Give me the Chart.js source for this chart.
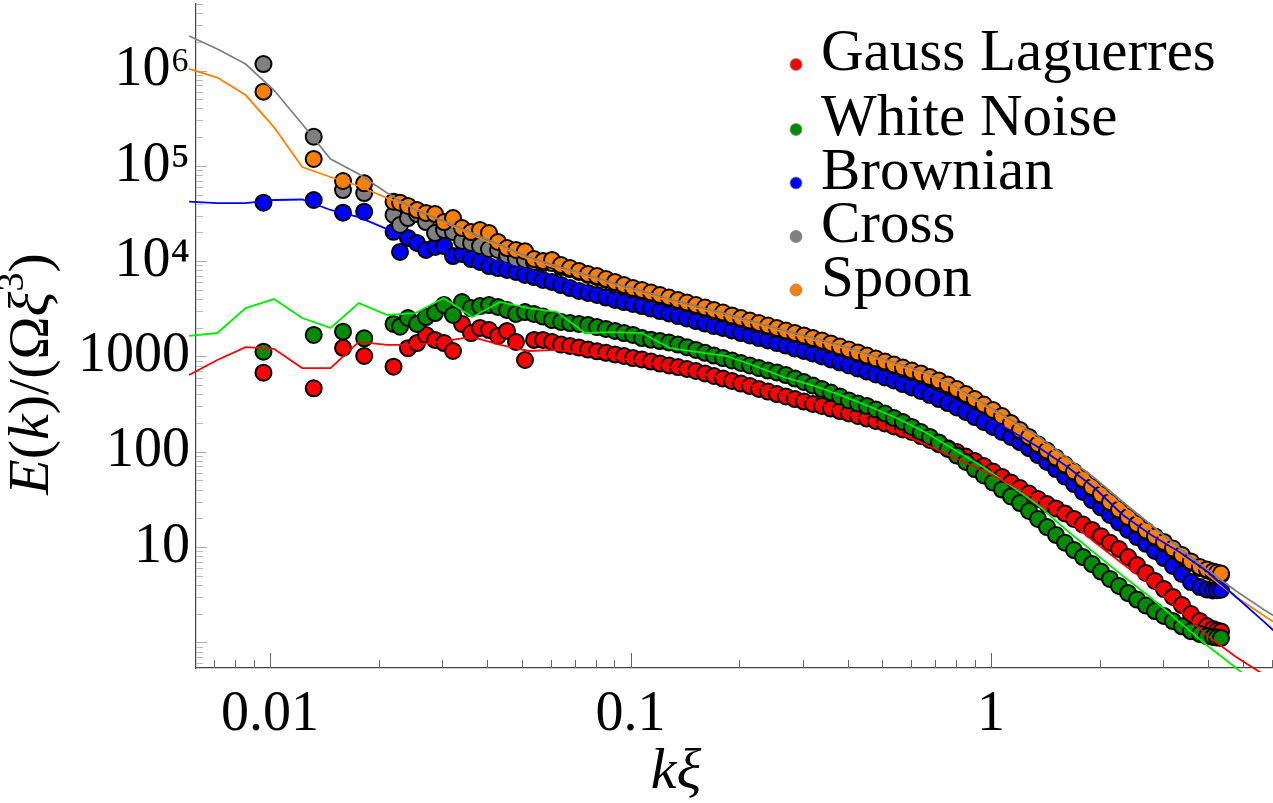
<!DOCTYPE html>
<html>
<head>
<meta charset="utf-8">
<script src="https://cdn.jsdelivr.net/npm/chart.js@4.4.1/dist/chart.umd.min.js"></script>
<style>
  html, body { margin: 0; padding: 0; background: #fff; }
  #wrap { width: 1273px; height: 803px; }
</style>
</head>
<body>
<div id="wrap"><canvas id="spectrum" width="1273" height="803"></canvas></div>
<script>
// k*xi positions of the binned spectra (shared by all five runs)
const pointK = [
  0.00959, 0.01322, 0.01594, 0.01825, 0.02201, 0.02294,
  0.02414, 0.02557, 0.02708, 0.02869, 0.03039, 0.03218, 0.03409, 0.03611, 0.03824, 0.04050,
  0.04290, 0.04544, 0.04813, 0.05097, 0.05399, 0.05718, 0.06056, 0.06415, 0.06794, 0.07196,
  0.07622, 0.08073, 0.08550, 0.09056, 0.09592, 0.1016, 0.1076, 0.1140, 0.1207, 0.1279,
  0.1354, 0.1434, 0.1519, 0.1609, 0.1704, 0.1805, 0.1912, 0.2025, 0.2144, 0.2271,
  0.2406, 0.2548, 0.2698, 0.2858, 0.3027, 0.3206, 0.3396, 0.3596, 0.3809, 0.4034,
  0.4273, 0.4526, 0.4793, 0.5077, 0.5377, 0.5695, 0.6032, 0.6388, 0.6766, 0.7166,
  0.7590, 0.8039, 0.8514, 0.9018, 0.9551, 1.0128, 1.0727, 1.1361, 1.2033, 1.2745,
  1.3498, 1.4297, 1.5142, 1.6038, 1.6986, 1.7991, 1.9054, 2.0181, 2.1375, 2.2639,
  2.3988, 2.541, 2.6897, 2.8488, 3.0173, 3.1957, 3.3847, 3.5849, 3.7970,
  3.972, 4.128, 4.235, 4.345
];

const gaussPts = [
  675, 463, 1230, 1010, 780, null,
  1220, 1380, 1680, 1490, 1380, 1140, 2190, 1760, 1990, 1890,
  1640, 1850, 1420, 917, 1490, 1490, 1420, 1330, 1290, 1240,
  1180, 1130, 1090, 1050, 1010, 962, 928, 884, 842, 803,
  774, 738, 703, 662, 623, 586, 552, 519, 489, 455,
  428, 403, 380, 357, 336, 317, 302, 284, 267, 252,
  237, 223, 210, 198, 184, 171, 161, 146, 133, 120,
  109, 99.3, 89.1, 79.9, 70.8, 62.0, 54.3, 47.5, 41.6, 36.4,
  31.9, 28.2, 25.4, 22.5, 19.7, 17.2, 15.1, 13.0, 11.1, 9.53,
  7.85, 6.47, 5.34, 4.40, 3.62, 2.99, 2.46, 1.98, 1.67,
  1.48, 1.38, 1.33, 1.30
];

const whiteNoisePts = [
  1120, 1680, 1820, 1550, 2190, 2050,
  2530, 2190, 2590, 2850, 3460, 2720, 3720, 3220, 3380, 3460,
  3300, 3070, 2790, 2920, 2790, 2620, 2410, 2300, 2240, 2190,
  2140, 2030, 1940, 1850, 1760, 1680, 1560, 1500, 1450, 1400,
  1330, 1250, 1170, 1090, 1020, 962, 906, 853, 803, 755,
  711, 678, 638, 586, 539, 495, 455, 418, 380, 345,
  320, 302, 277, 252, 226, 205, 182, 161, 143, 125,
  107, 91.2, 78.0, 65.8, 56.3, 47.5, 40.1, 33.9, 28.9, 23.9,
  19.7, 16.2, 13.4, 11.1, 9.30, 7.85, 6.63, 5.53, 4.62, 3.90,
  3.29, 2.81, 2.43, 2.13, 1.89, 1.67, 1.47, 1.31, 1.22,
  1.16, 1.14, 1.12, 1.11
];

const brownianPts = [
  41000, 43800, 32200, 33000, 20300, 12500,
  17500, 15500, 13100, 14100, 14400, 11300, 11900, 10500, 9790, 8880,
  8460, 8070, 7690, 7150, 6810, 6340, 6040, 5610, 5220, 4860,
  4630, 4410, 4150, 3910, 3720, 3550, 3380, 3180, 2990, 2820,
  2650, 2500, 2350, 2210, 2080, 1990, 1870, 1760, 1660, 1560,
  1470, 1380, 1300, 1210, 1140, 1070, 998, 928, 863, 803,
  746, 694, 646, 601, 559, 513, 472, 434, 393, 357,
  324, 291, 261, 231, 205, 182, 161, 143, 126, 109,
  92.3, 78.0, 65.8, 54.9, 45.8, 37.8, 31.1, 26.0, 21.7, 18.1,
  15.1, 12.7, 10.8, 9.08, 7.66, 6.32, 5.21, 4.29, 3.80,
  3.58, 3.50, 3.52, 3.56
];

const crossPts = [
  1170000, 202000, 55700, 51800, 30500, 23900,
  28300, 31200, 25700, 19700, 21200, 20200, 16300, 15500, 14400, 13400,
  13100, 11600, 10500, 10300, 9790, 9550, 9550, 8670, 8260, 7690,
  7150, 6810, 6340, 5900, 5480, 5100, 4860, 4570, 4300, 4050,
  3820, 3590, 3380, 3180, 3000, 2820, 2630, 2470, 2320, 2190,
  2060, 1940, 1830, 1720, 1620, 1520, 1430, 1340, 1240, 1150,
  1070, 996, 928, 863, 802, 747, 694, 646, 593, 546,
  495, 444, 393, 348, 305, 267, 231, 195, 165, 140,
  117, 100, 84.8, 71.6, 60.5, 50.5, 41.6, 34.7, 29.0, 24.1,
  20.1, 17.0, 14.5, 12.6, 11.0, 9.41, 8.04, 6.88, 6.02,
  5.67, 5.40, 5.27, 5.14
];

const spoonPts = [
  600000, 118000, 69300, 65500, 42000, 41000,
  37900, 34300, 32000, 31200, 25700, 28300, 22200, 20200, 21200, 19700,
  15900, 13700, 13100, 12700, 10500, 10000, 10300, 9100, 8470, 7890,
  7320, 6980, 6490, 6040, 5610, 5220, 4980, 4680, 4410, 4150,
  3910, 3680, 3460, 3260, 3070, 2890, 2690, 2530, 2380, 2240,
  2110, 1990, 1870, 1760, 1660, 1560, 1470, 1370, 1270, 1180,
  1100, 1020, 951, 884, 822, 765, 711, 662, 608, 559,
  507, 455, 403, 357, 313, 274, 237, 200, 169, 143,
  120, 103, 86.9, 73.4, 62.0, 51.7, 42.6, 35.6, 29.7, 24.7,
  20.6, 17.4, 14.9, 12.9, 11.3, 9.64, 8.24, 7.05, 6.17,
  5.81, 5.53, 5.40, 5.27
];

// fitted curves, sampled on a coarser k grid
const lineK = [
  0.005962, 0.007142, 0.008556, 0.01025, 0.01228, 0.01472, 0.01763, 0.02113, 0.02531, 0.03032,
  0.03633, 0.04353, 0.05216, 0.06249, 0.07487, 0.08970, 0.1075, 0.1288, 0.1543, 0.1848,
  0.2215, 0.2653, 0.3179, 0.3809, 0.4564, 0.5468, 0.6551, 0.7849, 0.9403, 1.1268,
  1.3499, 1.6173, 1.9375, 2.3214, 2.7812, 3.3331, 3.9931, 4.7842, 5.7320, 6.8676
];

const gaussFit = [
  638, 917, 1250, 1200, 755, 755, 1420, 1320, 1320, 1450,
  1600, 1320, 1140, 1170, 1060, 985, 874, 774, 670, 579,
  489, 413, 340, 267, 210, 161, 120, 88.0, 64.3, 45.8,
  31.9, 19.7, 11.3, 6.63, 3.99, 2.18, 1.16, 0.701, 0.454, 0.294
];
const whiteNoiseFit = [
  1640, 1760, 3220, 4000, 2530, 1990, 3630, 2720, 2850, 4100,
  2590, 3720, 3220, 2920, 1760, 1800, 1760, 1220, 1110, 1010,
  793, 608, 501, 394, 302, 226, 161, 107, 70.8, 44.7,
  27.6, 15.1, 8.65, 4.96, 2.92, 1.63, 0.915, 0.537, 0.316, 0.186
];
const brownianFit = [
  42200, 40700, 40700, 43800, 44300, 34400, 29000, 21700, 15500, 12600,
  11600, 9790, 8070, 6650, 5350, 4300, 3630, 2990, 2530, 1990,
  1640, 1350, 1140, 939, 755, 593, 466, 349, 243, 169,
  112, 70.8, 41.6, 21.7, 13.4, 8.86, 5.47, 2.99, 1.63, 0.871
];
const crossFit = [
  2300000, 1680000, 1170000, 624000, 275000, 118000, 82000, 51800, 34400, 26400,
  19700, 14800, 11000, 8880, 7320, 5890, 4860, 4000, 3340, 2790,
  2300, 1890, 1580, 1320, 1060, 853, 686, 501, 332, 220,
  146, 88.0, 53.0, 29.7, 17.0, 9.76, 5.74, 3.45, 2.18, 1.45
];
const spoonFit = [
  1040000, 844000, 553000, 255000, 97100, 76300, 61400, 45900, 36100, 25700,
  18800, 14100, 10500, 8460, 6980, 5610, 4630, 3810, 3180, 2650,
  2190, 1800, 1500, 1250, 1010, 812, 654, 477, 317, 210,
  136, 81.8, 48.1, 26.9, 15.1, 8.44, 5.08, 2.99, 1.89, 1.22
];

const seriesNames = ['Gauss Laguerres', 'White Noise', 'Brownian', 'Cross', 'Spoon'];
const pointSeries = [gaussPts, whiteNoisePts, brownianPts, crossPts, spoonPts];
const fitSeries = [gaussFit, whiteNoiseFit, brownianFit, crossFit, spoonFit];
const pointColors = ['#ff0000', '#008c00', '#0000ff', '#808080', '#ff8000'];
const lineColors = ['#ff0000', '#00ee00', '#0000ff', '#808080', '#ff8000'];

const xMajorTicks = [0.01, 0.1, 1];
const xTickLabels = ['0.01', '0.1', '1'];
const yMajorTicks = [1, 10, 100, 1000, 1e4, 1e5, 1e6];
const yTickLabels = ['', '10', '100', '1000', '10\u2074', '10\u2075', '10\u2076'];
const minorSteps = [2, 3, 4, 5, 6, 7, 8, 9];

const serif = "'Liberation Serif', 'Times New Roman', serif";

function pairs(xs, ys) {
  return xs.map((x, i) => ({ x: x, y: ys[i] }));
}

function minorTicks(majors) {
  const out = [];
  [majors[0] / 10].concat(majors).forEach(d => {
    minorSteps.forEach(s => out.push(d * s));
  });
  return out;
}

// Mathematica style ticks that point into the frame
const insideTicks = {
  id: 'insideTicks',
  beforeDatasetsDraw(chart) {
    const { ctx, chartArea } = chart;
    const x = chart.scales.x, y = chart.scales.y;
    ctx.save();
    ctx.lineWidth = 1;
    const tickX = (v, len, color) => {
      const px = Math.round(x.getPixelForValue(v)) + 0.5;
      if (px < chartArea.left || px > chartArea.right) return;
      ctx.strokeStyle = color;
      ctx.beginPath();
      ctx.moveTo(px, chartArea.bottom);
      ctx.lineTo(px, chartArea.bottom - len);
      ctx.stroke();
    };
    const tickY = (v, len, color) => {
      const py = Math.round(y.getPixelForValue(v)) + 0.5;
      if (py < chartArea.top || py > chartArea.bottom) return;
      ctx.strokeStyle = color;
      ctx.beginPath();
      ctx.moveTo(chartArea.left, py);
      ctx.lineTo(chartArea.left + len, py);
      ctx.stroke();
    };
    xMajorTicks.forEach(v => tickX(v, 15, '#666'));
    minorTicks(xMajorTicks).forEach(v => tickX(v, 8, '#666'));
    yMajorTicks.forEach(v => tickY(v, 11, '#aaa'));
    minorTicks(yMajorTicks).forEach(v => tickY(v, 7, '#bbb'));
    ctx.restore();
  }
};

// point legend in the upper right corner
const dotLegend = {
  id: 'dotLegend',
  afterDraw(chart) {
    const ctx = chart.ctx;
    const rows = [70, 135, 188.5, 242, 295.5];
    const sets = chart.data.datasets.filter(d => !d.showLine);
    ctx.save();
    ctx.font = '59px ' + serif;
    ctx.textBaseline = 'alphabetic';
    ctx.textAlign = 'left';
    sets.forEach((d, i) => {
      ctx.beginPath();
      ctx.arc(796, rows[i] - 5.5, 6, 0, Math.PI * 2);
      ctx.fillStyle = d.backgroundColor;
      ctx.fill();
      ctx.lineWidth = 0.8;
      ctx.strokeStyle = '#888';
      ctx.stroke();
      ctx.fillStyle = '#000';
      ctx.fillText(d.label, 821, rows[i]);
    });
    ctx.restore();
  }
};

// axis labels with mixed italic / upright pieces
const axisTitles = {
  id: 'axisTitles',
  afterDraw(chart) {
    const ctx = chart.ctx;
    ctx.save();
    ctx.fillStyle = '#000';
    ctx.textBaseline = 'alphabetic';
    ctx.textAlign = 'left';

    const parts = [
      { t: 'E', f: 'italic 58px ' + serif, dy: 0 },
      { t: '(', f: '58px ' + serif, dy: 0 },
      { t: 'k', f: 'italic 58px ' + serif, dy: 0 },
      { t: ')/(\u03A9', f: '58px ' + serif, dy: 0 },
      { t: '\u03BE', f: 'italic 58px ' + serif, dy: 0 },
      { t: '3', f: '38px ' + serif, dy: -25 },
      { t: ')', f: '58px ' + serif, dy: 0 }
    ];
    let total = 0;
    parts.forEach(p => { ctx.font = p.f; p.w = ctx.measureText(p.t).width; total += p.w; });
    ctx.translate(48, 374);
    ctx.rotate(-Math.PI / 2);
    let cx = -total / 2;
    parts.forEach(p => {
      ctx.font = p.f;
      ctx.fillText(p.t, cx, p.dy);
      cx += p.w;
    });
    ctx.restore();

    ctx.save();
    ctx.fillStyle = '#000';
    ctx.font = 'italic 58px ' + serif;
    ctx.textAlign = 'center';
    ctx.textBaseline = 'alphabetic';
    ctx.fillText('k\u03BE', 676, 788);
    ctx.restore();
  }
};

const datasets = [];
// fitted lines sit above the markers (lower order draws later)
fitSeries.forEach((ys, s) => {
  datasets.push({
    label: seriesNames[s] + ' fit',
    data: pairs(lineK, ys),
    showLine: true,
    borderColor: lineColors[s],
    borderWidth: 1.8,
    pointRadius: 0,
    pointHoverRadius: 0,
    tension: 0,
    fill: false,
    clip: { left: 8, top: 0, right: 0, bottom: 4 },
    order: 1 + s
  });
});
pointSeries.forEach((ys, s) => {
  datasets.push({
    label: seriesNames[s],
    data: pairs(pointK, ys),
    showLine: false,
    backgroundColor: pointColors[s],
    borderColor: '#000',
    pointBackgroundColor: pointColors[s],
    pointBorderColor: '#000',
    pointBorderWidth: 2,
    pointRadius: 8,
    pointHoverRadius: 8,
    order: 14 - s
  });
});

// fixed frame: keep Chart.js from reserving room for overhanging labels
function fixX(s) {
  s.height = 135;
  s.paddingLeft = 0;
  s.paddingRight = 0;
}
function fixY(s) {
  s.width = 196;
  s.paddingTop = 0;
  s.paddingBottom = 0;
}

new Chart(document.getElementById('spectrum'), {
  type: 'scatter',
  data: { datasets: datasets },
  plugins: [insideTicks, dotLegend, axisTitles],
  options: {
    responsive: false,
    animation: false,
    devicePixelRatio: 1,
    layout: { autoPadding: false, padding: { top: 4, left: 0, right: 0, bottom: 0 } },
    plugins: {
      legend: { display: false },
      tooltip: { enabled: false }
    },
    scales: {
      x: {
        type: 'logarithmic',
        position: 'bottom',
        min: 0.006233,
        max: 6.056,
        afterFit: fixX,
        afterBuildTicks: s => { s.ticks = xMajorTicks.map(v => ({ value: v })); },
        grid: { display: false, drawTicks: false },
        border: { display: true, color: '#444', width: 1.2 },
        ticks: {
          autoSkip: false,
          maxRotation: 0,
          minRotation: 0,
          padding: 14,
          color: '#000',
          font: { family: serif, size: 56 },
          callback: (v, i) => xTickLabels[i]
        }
      },
      y: {
        type: 'logarithmic',
        position: 'left',
        min: 0.5375,
        max: 4.99e6,
        afterFit: fixY,
        afterBuildTicks: s => { s.ticks = yMajorTicks.map(v => ({ value: v })); },
        grid: { display: false, drawTicks: false },
        border: { display: true, color: '#444', width: 1.2 },
        ticks: {
          autoSkip: false,
          padding: 6,
          color: '#000',
          font: { family: serif, size: 56 },
          callback: (v, i) => yTickLabels[i]
        }
      }
    }
  }
});
</script>
</body>
</html>
